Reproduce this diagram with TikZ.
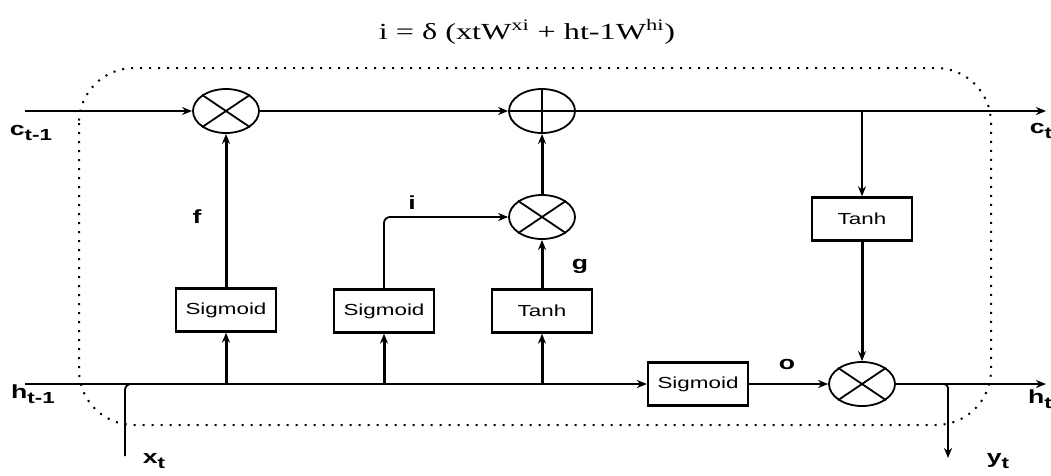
\documentclass[tikz,border=0pt]{standalone}
\usepackage{fontspec}
\setmainfont{Liberation Serif}
\setsansfont{Liberation Sans}
\usetikzlibrary{shapes.geometric,arrows.meta}
\newcommand{\hs}[1]{\scalebox{1.4}[1]{#1}}
\newcommand{\sub}[1]{\raisebox{-5pt}{\fontsize{16}{16}\selectfont #1}}
\begin{document}
\begin{tikzpicture}[x=1pt,y=-1pt,
  box/.style={draw,line width=2.3pt,minimum width=100pt,minimum height=43pt,inner sep=0pt,
    font=\sffamily\fontsize{16}{18}\selectfont},
  op/.style={draw,ellipse,line width=1.8pt,minimum width=66pt,minimum height=44pt,inner sep=0pt},
  thinl/.style={line width=1.8pt},
  thickl/.style={line width=3pt},
  arr/.style={-{Stealth[length=10pt,width=8pt]}},
  lab/.style={font=\sffamily\bfseries\fontsize{19}{21}\selectfont, inner sep=0pt},
  border/.style={line width=2pt, dash pattern=on 2pt off 7pt, rounded corners=55pt},
]
\useasboundingbox (0,0) rectangle (1051,475);
% title
\node[font=\fontsize{23}{26}\selectfont, inner sep=0pt] (title) at (527,32)
  {\hs{i = δ (xtW\textsuperscript{xi} + ht-1W\textsuperscript{hi})}};
% dotted cell border
\draw[border] (79,68) rectangle (991,425);

% operators
\node[op] (m1) at (226,111) {};
\node[op] (pl) at (542,111) {};
\node[op] (m2) at (542,217) {};
\node[op] (m3) at (862,384) {};
\foreach \n in {m1,m2,m3}{
  \draw[thinl] (\n.34) -- (\n.214);
  \draw[thinl] (\n.146) -- (\n.326);
}
\draw[thinl] (pl.north) -- (pl.south);
\draw[thinl] (pl.west) -- (pl.east);

% boxes
\node[box] (s1) at (226,310) {\hs{Sigmoid}};
\node[box] (s2) at (384,311) {\hs{Sigmoid}};
\node[box] (t1) at (542,311) {\hs{Tanh}};
\node[box] (s3) at (698,384) {\hs{Sigmoid}};
\node[box] (t2) at (862,219) {\hs{Tanh}};

% coordinates
\coordinate (cin) at (25,111);
\coordinate (cout) at (1046,111);
\coordinate (hin) at (25,384);
\coordinate (hout) at (1046,384);
\coordinate (xin) at (125,456);
\coordinate (xjoin) at (170,384);
\coordinate (yout) at (948,458);
\coordinate (tap) at (862,111);
\coordinate (b1) at (226,384);
\coordinate (b2) at (384,384);
\coordinate (b3) at (542,384);

% cell state line
\draw[thinl,arr] (cin) -- (m1.west);
\draw[thinl,arr] (m1.east) -- (pl.west);
\draw[thinl,arr] (pl.east) -- (cout);
\draw[thinl,arr] (tap) -- (t2.north);
\draw[thickl,arr] (t2.south) -- (m3.north);

% gates
\draw[thickl,arr] (s1.north) -- (m1.south);
\draw[thinl,arr,rounded corners=6pt] (s2.north) |- (m2.west);
\draw[thickl,arr] (t1.north) -- (m2.south);
\draw[thickl,arr] (m2.north) -- (pl.south);

% hidden line
\draw[thinl,arr] (hin) -- (s3.west);
\draw[thinl,rounded corners=6pt] (xin) |- (xjoin);
\draw[thickl,arr] (b1) -- (s1.south);
\draw[thickl,arr] (b2) -- (s2.south);
\draw[thickl,arr] (b3) -- (t1.south);
\draw[thinl,arr] (s3.east) -- (m3.west);
\draw[thinl,arr] (m3.east) -- (hout);
\draw[thinl,arr,rounded corners=4pt] (m3.east) -| (yout);

% labels
\node[lab] (lc0) at (31,133) {\hs{c\sub{t-1}}};
\node[lab] (lc1) at (1041,131) {\hs{c\sub{t}}};
\node[lab] (lh0) at (33,394) {\hs{h\sub{t-1}}};
\node[lab] (lh1) at (1040,399) {\hs{h\sub{t}}};
\node[lab] (lx) at (154,461) {\hs{x\sub{t}}};
\node[lab] (ly) at (998,461) {\hs{y\sub{t}}};
\node[lab] (lf) at (197,217) {\hs{f}};
\node[lab] (li) at (412,203) {\hs{i}};
\node[lab] (lg) at (580,266) {\hs{g}};
\node[lab] (lo) at (787,364) {\hs{o}};
\end{tikzpicture}
\end{document}
